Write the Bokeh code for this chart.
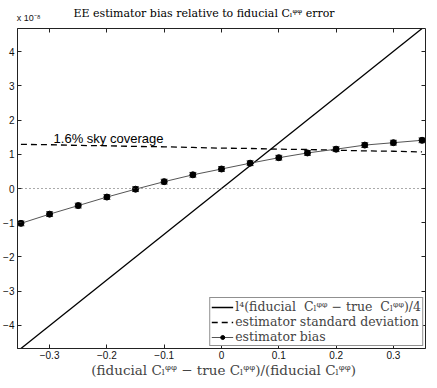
from bokeh.plotting import figure
from bokeh.models import (Range1d, LinearAxis, Label, Legend, LegendItem, Whisker,
                          TeeHead, ColumnDataSource, FixedTicker, Span)
from bokeh.embed import file_html
from bokeh.resources import INLINE

# ---- data (y values in units of 1e-8) ----
x_pts = [-0.35, -0.30, -0.25, -0.20, -0.15, -0.10, -0.05, 0.00, 0.05, 0.10, 0.15, 0.20, 0.25, 0.30, 0.35]
bias = [-1.02, -0.75, -0.50, -0.25, -0.02, 0.20, 0.40, 0.57, 0.74, 0.90, 1.04, 1.15, 1.27, 1.34, 1.41]
bias_err = [0.07, 0.07, 0.07, 0.07, 0.07, 0.07, 0.07, 0.07, 0.07, 0.07, 0.07, 0.07, 0.07, 0.07, 0.07]
std_dev = [1.29, 1.28, 1.26, 1.25, 1.23, 1.22, 1.20, 1.18, 1.17, 1.15, 1.14, 1.12, 1.10, 1.09, 1.07]
line_x = [-0.35, 0.35]
line_y = [-4.68, 4.68]
x_ticks = [-0.3, -0.2, -0.1, 0.0, 0.1, 0.2, 0.3]
y_ticks = [-4, -3, -2, -1, 0, 1, 2, 3, 4]
x_lim = [-0.356, 0.356]
y_lim = [-4.68, 4.68]

CL = "C\u2097\u1D60\u1D60"
NBSP = "\u00A0"
title_text = "EE estimator bias relative to fiducial " + CL + " error"
xlabel_text = "(fiducial  " + CL + " \u2212 true  " + CL + ")/(fiducial  " + CL + ")"
leg1 = "l\u2074(fiducial  " + CL + " \u2212 true  " + CL + ")/4"
leg2 = "estimator standard deviation"
leg3 = "estimator bias"
note_text = "1.6% sky coverage"
note_x = -0.293
note_y = 1.45
scale_text = "x 10\u207B\u2078"

SERIF = "DejaVu Serif"
SANS = "Liberation Sans"

p = figure(width=429, height=380, output_backend="svg", toolbar_location=None,
           x_range=Range1d(*x_lim), y_range=Range1d(*y_lim),
           min_border_left=14, min_border_right=4, min_border_top=28, min_border_bottom=0)
p.background_fill_color = "white"
p.border_fill_color = "white"
p.xgrid.visible = False
p.ygrid.visible = False
p.outline_line_color = "#222222"
p.outline_line_width = 1

for ax, ticks in ((p.xaxis[0], x_ticks), (p.yaxis[0], y_ticks)):
    ax.ticker = FixedTicker(ticks=ticks)
    ax.major_tick_in = 4
    ax.major_tick_out = 0
    ax.minor_tick_line_color = None
    ax.axis_line_color = "#222222"
    ax.major_tick_line_color = "#222222"
    ax.major_label_text_font = SANS
    ax.major_label_text_font_size = "10px"
    ax.major_label_text_color = "#111111"

p.xaxis[0].major_label_standoff = 2
p.yaxis[0].major_label_standoff = 3
p.xaxis[0].axis_label = NBSP * 4 + xlabel_text
p.xaxis[0].axis_label_text_font = SERIF
p.xaxis[0].axis_label_text_font_style = "normal"
p.xaxis[0].axis_label_text_font_size = "13.5px"
p.xaxis[0].axis_label_standoff = 0

# box ticks on the right side (minor ticks only -> no labels)
right_ax = LinearAxis(ticker=FixedTicker(ticks=[], minor_ticks=y_ticks),
                      minor_tick_in=4, minor_tick_out=0, minor_tick_line_color="#222222",
                      major_tick_line_color=None, axis_line_color=None, major_label_standoff=0)
p.add_layout(right_ax, "right")

# top axis: tick marks as minor ticks; one unmarked major tick carries the scale note,
# the axis label carries the title
scale_pos = -0.3365
top_ax = LinearAxis(ticker=FixedTicker(ticks=[scale_pos], minor_ticks=x_ticks),
                    minor_tick_in=4, minor_tick_out=0, minor_tick_line_color="#222222",
                    major_tick_in=0, major_tick_out=0, major_tick_line_color=None,
                    axis_line_color=None, major_label_standoff=6,
                    major_label_overrides={scale_pos: scale_text},
                    major_label_text_font=SANS, major_label_text_font_size="9px",
                    major_label_text_color="#111111",
                    axis_label=title_text + NBSP * 10, axis_label_standoff=-10,
                    axis_label_text_font=SERIF, axis_label_text_font_size="11px",
                    axis_label_text_font_style="normal", axis_label_text_color="black")
p.add_layout(top_ax, "above")

# zero dotted line
p.add_layout(Span(location=0, dimension="width", line_color="#555555", line_dash="1 3", line_width=1))

r1 = p.line(line_x, line_y, line_color="black", line_width=1.3)
r2 = p.line(x_pts, std_dev, line_color="black", line_width=1.3, line_dash="6 4")

src = ColumnDataSource(dict(x=x_pts, y=bias,
                            upper=[b + e for b, e in zip(bias, bias_err)],
                            lower=[b - e for b, e in zip(bias, bias_err)]))
p.add_layout(Whisker(source=src, base="x", upper="upper", lower="lower",
                     line_color="#444444", line_width=1,
                     upper_head=TeeHead(size=7, line_color="#444444", line_width=1),
                     lower_head=TeeHead(size=7, line_color="#444444", line_width=1)))
r3 = p.line("x", "y", source=src, line_color="#555555", line_width=1)
r4 = p.scatter("x", "y", source=src, size=6, fill_color="black", line_color="black")

legend = Legend(items=[LegendItem(label=leg1, renderers=[r1]),
                       LegendItem(label=leg2, renderers=[r2]),
                       LegendItem(label=leg3, renderers=[r3, r4])],
                location="bottom_right", margin=2, padding=1, spacing=0,
                label_text_font=SERIF, label_text_font_size="12.5px",
                label_height=10, glyph_height=10, glyph_width=22, label_standoff=2,
                border_line_color="#222222", border_line_width=1,
                background_fill_color="white", background_fill_alpha=1)
p.add_layout(legend)

p.add_layout(Label(x=note_x, y=note_y, text=note_text, text_font=SANS, text_font_size="13px",
                   text_color="black", text_baseline="alphabetic"))

open("out.html", "w").write(file_html(p, INLINE))
